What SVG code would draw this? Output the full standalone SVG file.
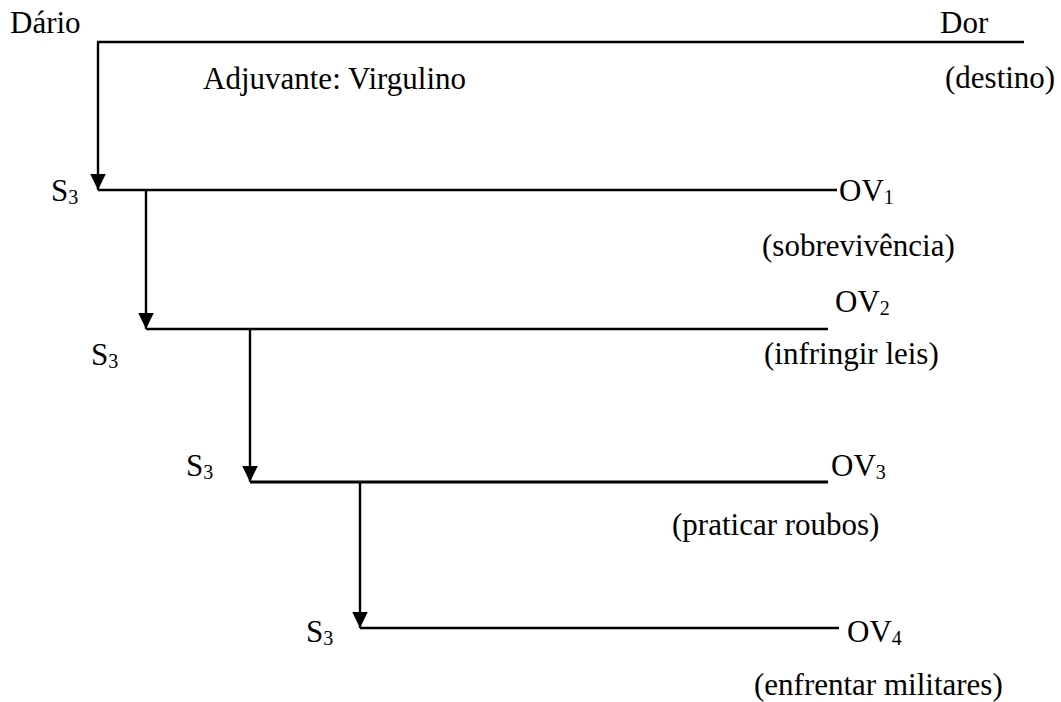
<svg xmlns="http://www.w3.org/2000/svg" width="1061" height="702" viewBox="0 0 1061 702">
  <style>
    text { font-family: "Liberation Serif", "Times New Roman", serif; font-size: 31px; fill: #000; }
    .sub { font-size: 20px; }
    .ln { stroke: #000; stroke-width: 2.6; fill: none; }
    .vl { stroke: #000; stroke-width: 2.4; fill: none; }
  </style>
  <defs>
    <!-- solid downward arrowhead, tip at the end of the line -->
    <marker id="down" markerUnits="userSpaceOnUse" markerWidth="18" markerHeight="17" viewBox="0 0 18 17" refX="9" refY="16.5" orient="0">
      <path d="M1,0 L17,0 L9,16.5 Z" fill="#000"/>
    </marker>
  </defs>

  <!-- horizontal bars and descending arrows -->
  <g id="connectors">
    <line class="ln" x1="97" y1="42" x2="1024" y2="42"/>
    <line class="vl" x1="98" y1="42" x2="98" y2="190" marker-end="url(#down)"/>

    <line class="ln" x1="98" y1="190" x2="837" y2="190"/>
    <line class="vl" x1="146" y1="190" x2="146" y2="329" marker-end="url(#down)"/>

    <line class="ln" x1="146" y1="329" x2="828" y2="329"/>
    <line class="vl" x1="250" y1="329" x2="250" y2="482" marker-end="url(#down)"/>

    <line class="ln" x1="250" y1="482" x2="828" y2="482" style="stroke-width:3.2"/>
    <line class="vl" x1="360" y1="482" x2="360" y2="628" marker-end="url(#down)"/>

    <line class="ln" x1="360" y1="628" x2="839" y2="628"/>
  </g>

  <g id="dario"><text x="10" y="33">Dário</text></g>
  <g id="adjuvante"><text x="203" y="89">Adjuvante: Virgulino</text></g>
  <g id="dor">
    <text x="940" y="33">Dor</text>
    <text x="945" y="88">(destino)</text>
  </g>

  <g id="s3-1"><text x="51" y="201">S<tspan class="sub" dy="3">3</tspan></text></g>
  <g id="ov1">
    <text x="839" y="201">OV<tspan class="sub" dy="3">1</tspan></text>
    <text x="762" y="256">(sobrevivência)</text>
  </g>

  <g id="s3-2"><text x="91" y="365">S<tspan class="sub" dy="3">3</tspan></text></g>
  <g id="ov2">
    <text x="835" y="312">OV<tspan class="sub" dy="3">2</tspan></text>
    <text x="764" y="364">(infringir leis)</text>
  </g>

  <g id="s3-3"><text x="186" y="476">S<tspan class="sub" dy="3">3</tspan></text></g>
  <g id="ov3">
    <text x="831" y="476">OV<tspan class="sub" dy="3">3</tspan></text>
    <text x="672" y="535">(praticar roubos)</text>
  </g>

  <g id="s3-4"><text x="306" y="642">S<tspan class="sub" dy="3">3</tspan></text></g>
  <g id="ov4">
    <text x="847" y="642">OV<tspan class="sub" dy="3">4</tspan></text>
    <text x="754" y="695">(enfrentar militares)</text>
  </g>
</svg>
